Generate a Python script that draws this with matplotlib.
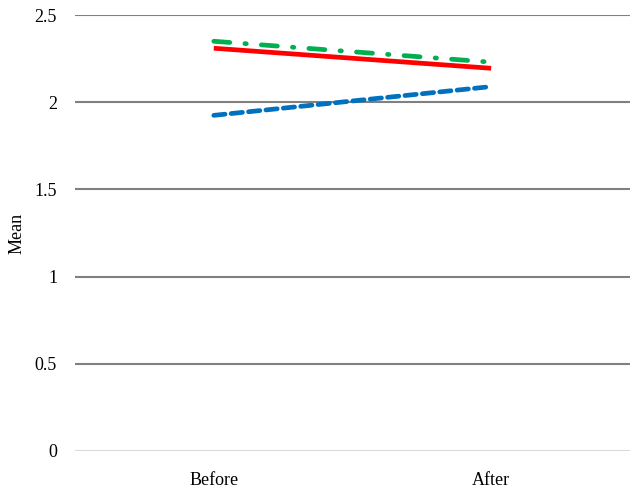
import matplotlib
matplotlib.use("Agg")
import matplotlib.pyplot as plt

# values
phases = ["Before", "After"]
series_green = [2.35, 2.23]
series_red = [2.31, 2.195]
series_blue = [1.925, 2.09]
yticks = [0, 0.5, 1, 1.5, 2, 2.5]
ytick_labels = ["0", "0.5", "1", "1.5", "2", "2.5"]

plt.rcParams['font.family'] = ['Liberation Serif', 'DejaVu Serif']

fig = plt.figure(figsize=(6.42, 4.97), dpi=100)
ax = fig.add_axes([0.117, 0.0926, 0.864, 0.877])

x = list(range(len(phases)))

for yv in yticks:
    col = '#d9d9d9' if yv == 0 else '#808080'
    ax.axhline(yv, color=col, lw=1.5, zorder=1)

ax.plot(x, series_green, color='#00b050', lw=3.4, dashes=(3.4, 3.2, 0.3, 3.2),
        dash_capstyle='round', zorder=3)
ax.plot(x, series_red, color='#ff0000', lw=3.4, solid_capstyle='butt', zorder=4)
ax.plot(x, series_blue, color='#0070c0', lw=3.4, dashes=(2.4, 1.3),
        dash_capstyle='round', zorder=3)

ax.set_xlim(-0.5, 1.5)
ax.set_ylim(0, 2.5)
ax.set_xticks(x)
ax.set_xticklabels(phases, fontsize=13)
ax.set_yticks(yticks)
ax.set_yticklabels(ytick_labels, fontsize=13)
ax.tick_params(length=0, pad=13)
ax.tick_params(axis='x', pad=15)
for s in ax.spines.values():
    s.set_visible(False)
ax.set_ylabel("Mean", fontsize=13)
ax.yaxis.set_label_coords(-0.09, 0.5)

fig.savefig("out.png", dpi=100)
